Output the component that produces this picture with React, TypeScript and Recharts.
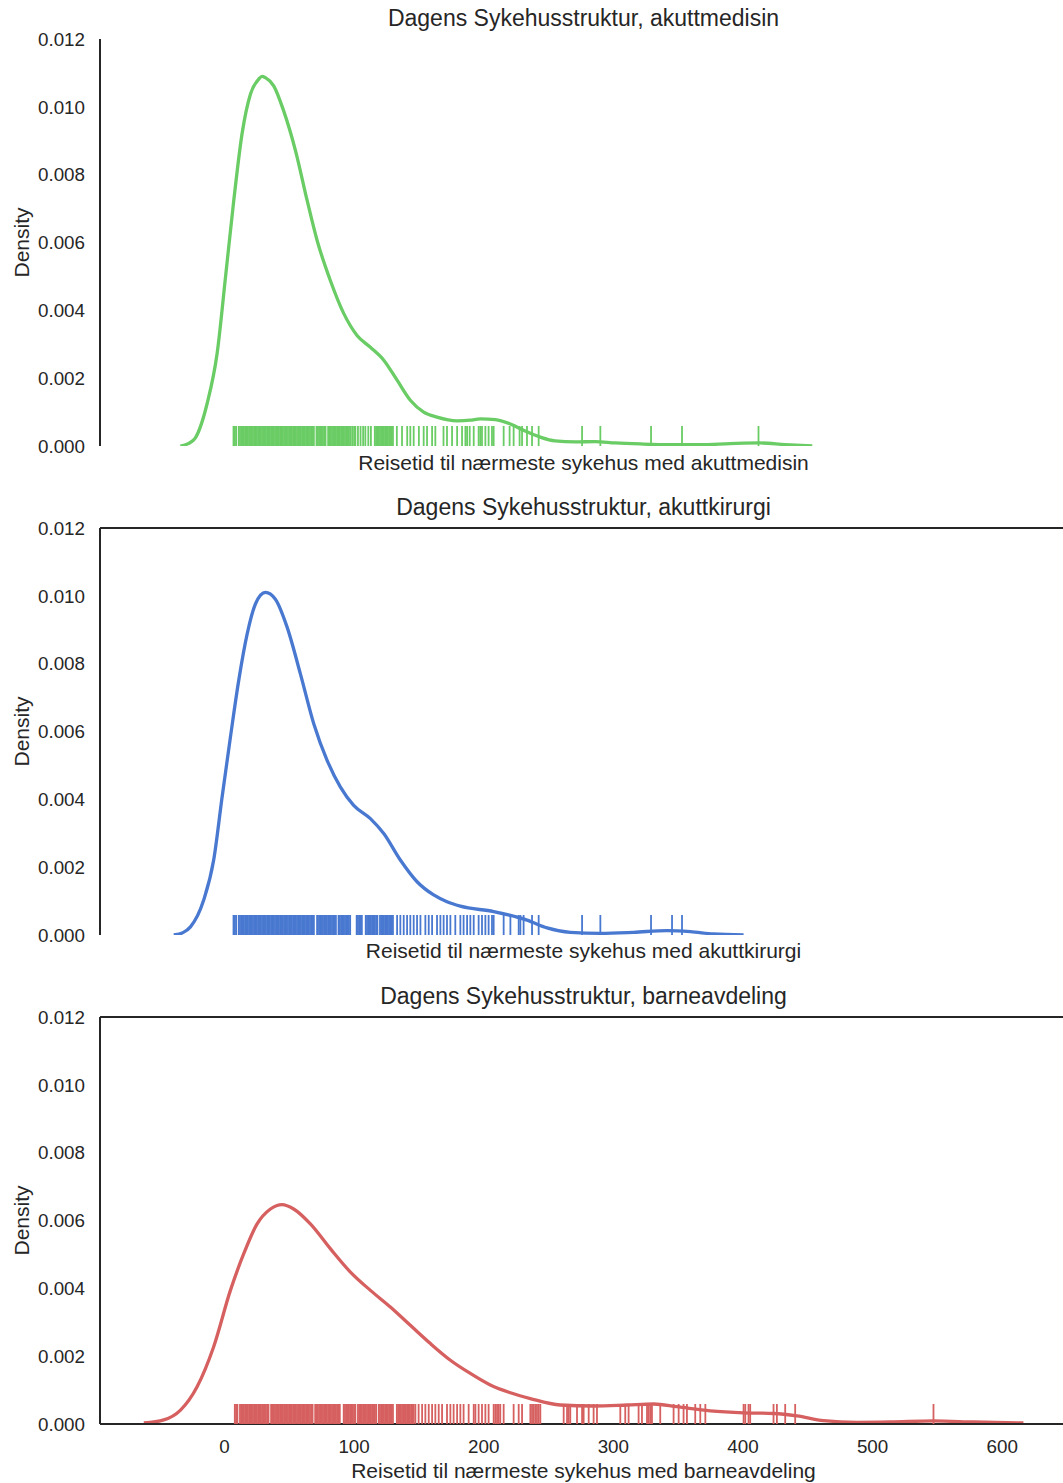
import * as React from "react";
import { ComposedChart, Line, Scatter, XAxis, YAxis, ReferenceLine } from "recharts";

const INK = "#262626";
const FONT = "'Liberation Sans', Arial, Helvetica, sans-serif";

const yTicks = [0, 0.002, 0.004, 0.006, 0.008, 0.01, 0.012];
const xTicks = [0, 100, 200, 300, 400, 500, 600];

// akuttmedisin (green)
const kdeMedisinX = [-34, -28, -22.4, -13.3, -5.6, 0.8, 7.2, 13.6, 20.1, 26.5, 29, 31.6, 38, 45.7, 54.8, 63.8, 71.5, 81.7, 92, 102.3, 112.6, 122.9, 133.2, 143.4, 153.7, 164, 179.5, 189.7, 197.4, 209, 220.6, 232, 243.7, 255, 270.7, 286, 301.5, 321, 344, 367, 390, 413, 432.6, 453.5];
const kdeMedisinY = [0, 0.00007, 0.00024, 0.00126, 0.00274, 0.00497, 0.00724, 0.00921, 0.01038, 0.01082, 0.0109, 0.01086, 0.01062, 0.00988, 0.00871, 0.00724, 0.00606, 0.00488, 0.00391, 0.00326, 0.00291, 0.00253, 0.00194, 0.00135, 0.001, 0.00085, 0.00074, 0.00076, 0.0008, 0.00078, 0.00065, 0.00044, 0.00026, 0.00015, 0.00012, 0.00013, 0.00009, 0.00006, 0.00004, 0.00004, 0.00007, 0.00009, 0.00004, 0];
const rugMedisin = [
  7, 8, 9, 11, 12, 13, 14, 15, 16, 17, 18, 19, 20, 21, 22, 23, 24, 25, 26, 27, 28, 29, 30, 31, 32, 33, 34, 35, 36, 37, 38, 39,
  40, 41, 42, 43, 44, 45, 46, 47, 48, 49, 50, 51, 52, 53, 54, 55, 56, 57, 58, 59, 60, 61, 62, 63, 64, 65, 66, 67, 68, 69,
  71, 72, 73, 74, 75, 76, 77, 78, 80, 81, 82, 83, 84, 85, 86, 87, 88, 89, 90, 91, 92, 93, 94, 95, 96, 97,
  98.5, 100, 101, 103, 105, 107, 108.7, 111, 113,
  116, 117, 118, 119, 120, 121, 122, 123, 124, 125, 126, 127, 128, 129, 130,
  133, 137, 141, 143.4, 146, 150, 153.7, 156.3, 160.2, 162.7, 169, 171.7, 175.6, 179.5, 183.3, 185.9, 187.2, 189.2,
  192.3, 196.1, 197.4, 198.7, 201.3, 203.8, 206.4, 207.7, 215.4, 220, 223.1, 227.7, 229.6, 233.4, 237.3, 242.4,
  275.9, 290, 329.1, 353, 412,
];

// akuttkirurgi (blue)
const kdeKirurgiX = [-39.1, -32, -26.2, -16, -8.3, -1.8, 4.6, 11, 17.5, 23.9, 31.6, 39.3, 48.4, 58.6, 68.9, 79.2, 89.5, 99.7, 112.6, 122.9, 135.7, 148.6, 161.4, 171.7, 182, 207.7, 233.4, 248.9, 266.8, 290, 315.6, 341.4, 359.4, 377.3, 400.5];
const kdeKirurgiY = [0, 0.00007, 0.00024, 0.00103, 0.00221, 0.00407, 0.00583, 0.0075, 0.00887, 0.00976, 0.0101, 0.0099, 0.00907, 0.0077, 0.00623, 0.00515, 0.00436, 0.00382, 0.00343, 0.00299, 0.00221, 0.00157, 0.00118, 0.00098, 0.00085, 0.00069, 0.00044, 0.00021, 0.00008, 0.00005, 0.00008, 0.00013, 0.0001, 0.00003, 0];
const rugKirurgi = [
  7, 8, 9, 11, 12, 13, 14, 15, 16, 17, 18, 19, 20, 21, 22, 23, 24, 25, 26, 27, 28, 29, 30, 31, 32, 33, 34, 35, 36, 37, 38, 39,
  40, 41, 42, 43, 44, 45, 46, 47, 48, 49, 50, 51, 52, 53, 54, 55, 56, 57, 58, 59, 60, 61, 62, 63, 64, 65, 66, 67, 68, 69,
  71.5, 72, 73, 74, 75, 76, 77, 78, 79, 80, 81, 82, 83, 84, 85, 86, 88, 89, 90, 91, 92, 93, 94, 95, 96, 97,
  102, 103, 104, 105, 106,
  109, 110, 111, 112, 113, 114, 115, 116, 117, 118, 120, 121, 122, 123, 124, 125, 126, 127, 128, 129, 130,
  133.2, 135.7, 138.3, 140.9, 143.4, 146, 148.6, 151.2, 155, 157.6, 160.2, 164, 166.6, 169.1, 171.7, 174.3, 178.1,
  182, 184.5, 187.2, 189.7, 192.3, 196.1, 198.7, 201.3, 203.8, 206.4, 207.7, 215.4, 220.6, 227, 228.3, 230.8, 237.3,
  242.4, 275.9, 290, 329.1, 345.3, 353,
];

// barneavdeling (red)
const kdeBarnX = [-62.2, -46.8, -33.9, -21.1, -8.3, 4.6, 14.9, 25.2, 35.5, 44.5, 53.4, 66.3, 81.7, 97.2, 112.6, 128, 143.4, 158.9, 174.3, 189.7, 205.1, 220.6, 236, 259.1, 284.8, 310.6, 331.1, 349.1, 374.8, 400.5, 423.6, 441.7, 462.2, 487.9, 513.6, 547, 577.9, 616.4];
const kdeBarnY = [0.00003, 0.00012, 0.00041, 0.0011, 0.00228, 0.00394, 0.00502, 0.0059, 0.00634, 0.00647, 0.00634, 0.0059, 0.00517, 0.00448, 0.00394, 0.00345, 0.00291, 0.00237, 0.00188, 0.00149, 0.00115, 0.00092, 0.00075, 0.00056, 0.00053, 0.00056, 0.00059, 0.00051, 0.00039, 0.00033, 0.00031, 0.00024, 0.0001, 0.00005, 0.00006, 0.00009, 0.00006, 0.00003];
const rugBarn = [
  8, 9, 10, 12, 13, 14, 15, 16, 17, 18, 19, 20, 21, 22, 23, 24, 25, 26, 27, 28, 29, 30, 31, 32, 33, 34, 36, 37, 38, 39,
  40, 41, 42, 43, 44, 45, 46, 47, 48, 49, 50, 51, 52, 53, 54, 55, 56, 57, 58, 59, 60, 61, 62, 63, 64, 65, 66, 67, 68,
  70, 71, 72, 73, 74, 75, 76, 77, 78, 79, 80, 81, 82, 83, 84, 85, 86, 87, 88, 89,
  92, 93, 94, 95, 96, 97, 98, 99, 100, 101, 103, 104, 105, 106, 107, 108, 109, 110, 111, 112, 113, 114, 115, 116, 117,
  119, 120, 121, 122, 123, 124, 125, 126, 127, 128, 129, 130,
  133, 134, 135, 136, 137, 138, 139, 140, 141, 142, 143, 144, 145, 146,
  147.3, 149.8, 152.5, 155, 157.6, 160.2, 162.7, 165.3, 167.9, 171.7, 174.3, 176.8, 179.5, 182, 184.5, 188.4, 192.3,
  193.6, 196.1, 198.7, 201.3, 203.8, 207.7, 209, 210.3, 211.5, 212.8, 215.4, 223.1, 227, 229.6, 236, 237.3, 238.5,
  239.8, 241.1, 242.4, 243.7, 261.7, 264.3, 265.5, 266.8, 272, 275.9, 277.1, 281, 284.8, 287.4, 305.4, 309.2, 311.8,
  319.5, 322.1, 326, 327.2, 328.5, 329.8, 336.2, 346.5, 350.4, 354.2, 356.8, 363.2, 367.1, 371, 400.5, 401.8, 404.3,
  405.6, 423.6, 426.2, 432.6, 440.3, 547,
];

interface PanelProps {
  top: number;
  height: number;
  title: string;
  xlabel: string;
  xlabelY: number;
  kdeX: number[];
  kdeY: number[];
  rug: number[];
  color: string;
  topSpine: boolean;
  showTicks: boolean;
}

function Panel(p: PanelProps) {
  const kde = p.kdeX.map((x, i) => ({ x, y: p.kdeY[i] }));
  const rugData = p.rug.map((x) => ({ x, y: 0 }));
  const axisH = p.showTicks ? 30 : 0;
  const textStyle: React.CSSProperties = {
    position: "absolute",
    left: 100,
    width: 967,
    textAlign: "center",
    color: INK,
    whiteSpace: "nowrap",
  };
  return (
    <div style={{ position: "absolute", left: 0, top: p.top, width: 1080, height: p.height }}>
      <ComposedChart
        width={1080}
        height={p.height}
        margin={{ top: 39, right: 13, bottom: p.height - 446 - axisH, left: 0 }}
      >
        <XAxis
          type="number"
          dataKey="x"
          domain={[-96, 650]}
          ticks={xTicks}
          allowDataOverflow
          height={axisH}
          tickLine={false}
          axisLine={{ stroke: INK, strokeWidth: 2 }}
          tick={p.showTicks ? { fill: INK, fontSize: 18.8 } : false}
          tickMargin={10}
        />
        <YAxis
          type="number"
          domain={[0, 0.012]}
          ticks={yTicks}
          allowDataOverflow
          width={100}
          tickLine={false}
          axisLine={{ stroke: INK, strokeWidth: 2 }}
          tick={{ fill: INK, fontSize: 18.8 }}
          tickMargin={9}
          tickFormatter={(v: number) => v.toFixed(3)}
        />
        {p.topSpine && <ReferenceLine y={0.012} stroke={INK} strokeWidth={2} />}
        <Scatter
          data={rugData}
          dataKey="y"
          isAnimationActive={false}
          shape={(s: any) => (
            <line x1={s.cx} x2={s.cx} y1={s.cy} y2={s.cy - 20} stroke={p.color} strokeWidth={1.8} />
          )}
        />
        <Line
          data={kde}
          dataKey="y"
          type="monotone"
          stroke={p.color}
          strokeWidth={3.3}
          dot={false}
          activeDot={false}
          isAnimationActive={false}
        />
      </ComposedChart>
      <div style={{ ...textStyle, top: 7, fontSize: 23, lineHeight: "23px" }}>{p.title}</div>
      <div style={{ ...textStyle, top: p.xlabelY - 11, fontSize: 21, lineHeight: "21px" }}>{p.xlabel}</div>
      <div
        style={{
          position: "absolute",
          left: -79,
          top: 232,
          width: 200,
          height: 21,
          lineHeight: "21px",
          fontSize: 21,
          textAlign: "center",
          color: INK,
          transform: "rotate(-90deg)",
        }}
      >
        Density
      </div>
    </div>
  );
}

export default function App() {
  return (
    <div
      style={{
        position: "absolute",
        left: 0,
        top: 0,
        width: 1063,
        height: 1483,
        overflow: "hidden",
        background: "#fff",
        fontFamily: FONT,
      }}
    >
      <Panel
        top={0}
        height={489}
        title="Dagens Sykehusstruktur, akuttmedisin"
        xlabel="Reisetid til nærmeste sykehus med akuttmedisin"
        xlabelY={463}
        kdeX={kdeMedisinX}
        kdeY={kdeMedisinY}
        rug={rugMedisin}
        color="#6acc64"
        topSpine={false}
        showTicks={false}
      />
      <Panel
        top={489}
        height={489}
        title="Dagens Sykehusstruktur, akuttkirurgi"
        xlabel="Reisetid til nærmeste sykehus med akuttkirurgi"
        xlabelY={462}
        kdeX={kdeKirurgiX}
        kdeY={kdeKirurgiY}
        rug={rugKirurgi}
        color="#4878d0"
        topSpine={true}
        showTicks={false}
      />
      <Panel
        top={978}
        height={505}
        title="Dagens Sykehusstruktur, barneavdeling"
        xlabel="Reisetid til nærmeste sykehus med barneavdeling"
        xlabelY={493}
        kdeX={kdeBarnX}
        kdeY={kdeBarnY}
        rug={rugBarn}
        color="#d65f5f"
        topSpine={true}
        showTicks={true}
      />
    </div>
  );
}
